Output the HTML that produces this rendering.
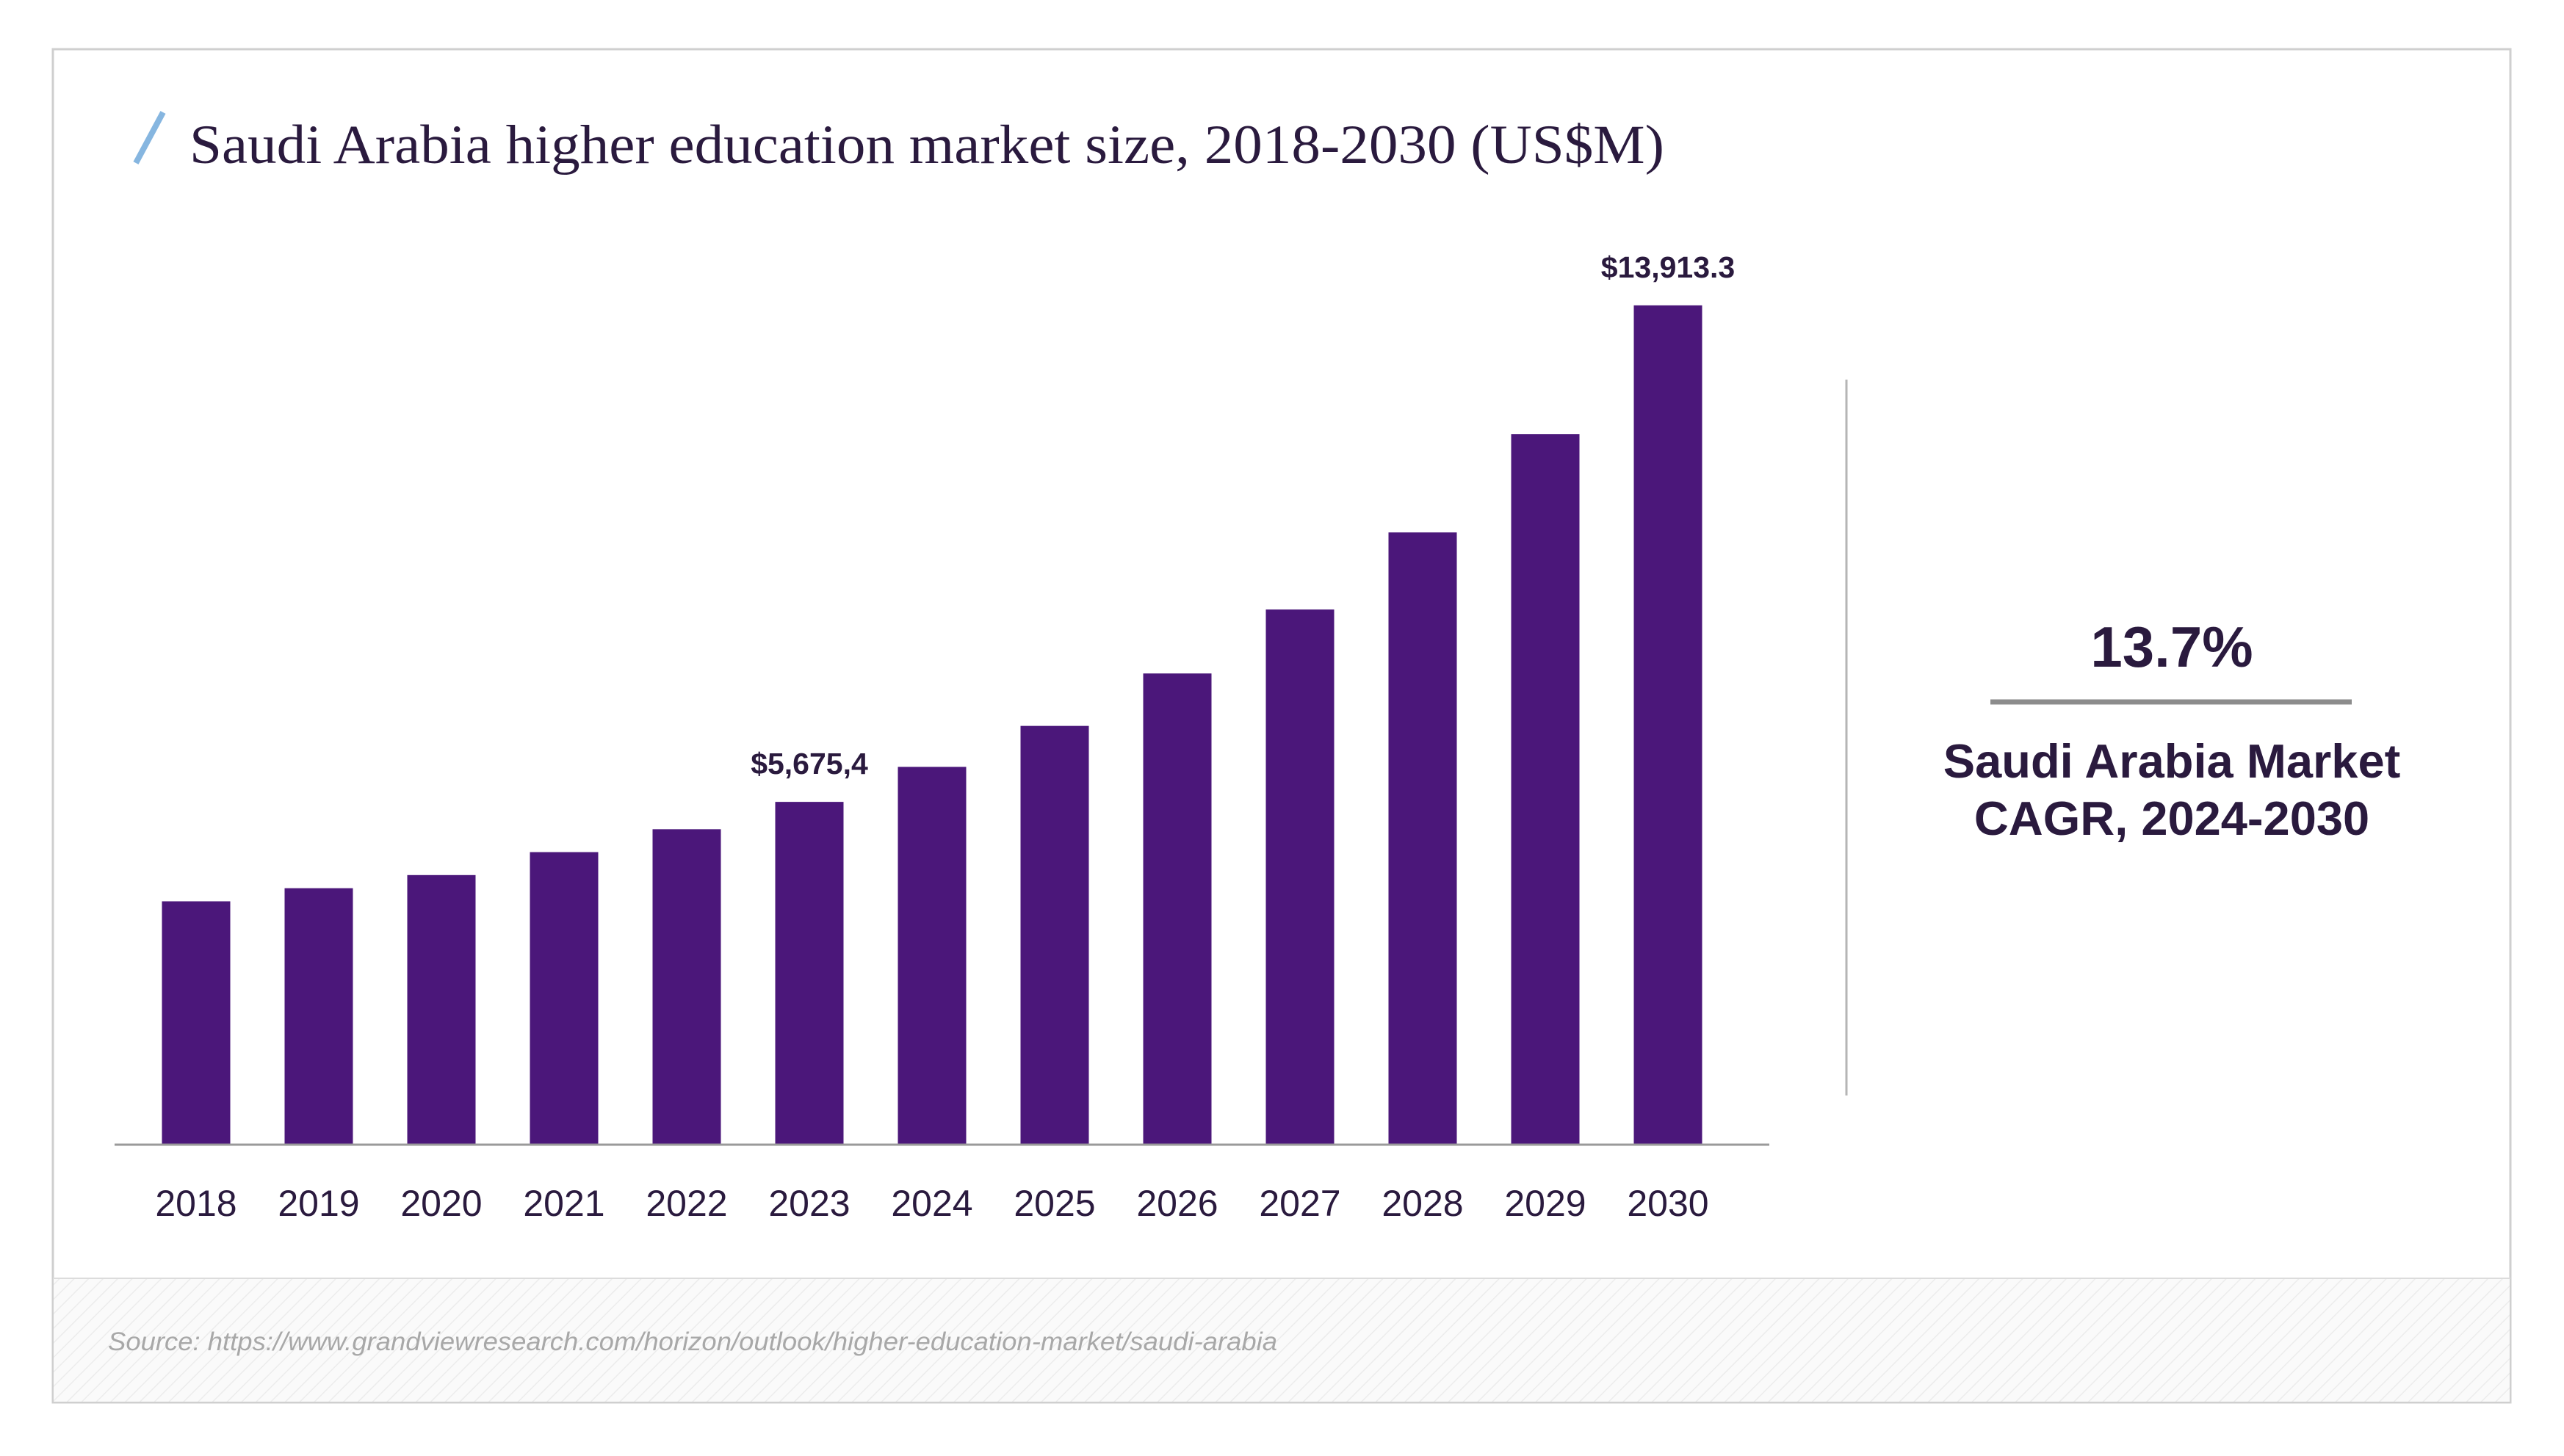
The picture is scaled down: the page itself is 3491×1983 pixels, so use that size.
<!DOCTYPE html>
<html><head><meta charset="utf-8"><style>
html,body{margin:0;padding:0;background:#fff;}
svg{display:block;}
</style></head><body>
<svg width="3491" height="1983" viewBox="0 0 3491 1983" xmlns="http://www.w3.org/2000/svg">
<defs>
<pattern id="hatch" width="14" height="14" patternUnits="userSpaceOnUse" patternTransform="rotate(45)">
<rect width="14" height="14" fill="#fafafa"/>
<line x1="0" y1="0" x2="0" y2="14" stroke="#ececec" stroke-width="3"/>
</pattern>
</defs>
<rect x="72" y="67" width="3346" height="1843" fill="#fff" stroke="#cfcfcf" stroke-width="3"/>
<rect x="73" y="1741" width="3344" height="168" fill="url(#hatch)"/>
<line x1="72" y1="1741" x2="3418" y2="1741" stroke="#dcdcdc" stroke-width="2"/>
<line x1="185" y1="222" x2="222" y2="153" stroke="#86b6e0" stroke-width="8"/>
<text x="258" y="222" font-family="'Liberation Serif',serif" font-size="75" fill="#2a1a3e" textLength="2008" lengthAdjust="spacingAndGlyphs">Saudi Arabia higher education market size, 2018-2030 (US$M)</text>
<g id="bars"></g>
<line x1="156" y1="1559" x2="2409" y2="1559" stroke="#9a9a9a" stroke-width="3"/>
<g id="xlabels"></g>
<line x1="2514" y1="517" x2="2514" y2="1492" stroke="#b5b5b5" stroke-width="3"/>
<text x="2957" y="908" text-anchor="middle" font-family="'Liberation Sans',sans-serif" font-weight="bold" font-size="78" fill="#2a1a3e">13.7%</text>
<line x1="2710" y1="956" x2="3202" y2="956" stroke="#8c8c8c" stroke-width="7"/>
<text x="2957" y="1059" text-anchor="middle" font-family="'Liberation Sans',sans-serif" font-weight="bold" font-size="65" fill="#2a1a3e">Saudi Arabia Market</text>
<text x="2957" y="1137" text-anchor="middle" font-family="'Liberation Sans',sans-serif" font-weight="bold" font-size="65" fill="#2a1a3e">CAGR, 2024-2030</text>
<text x="147" y="1839" font-family="'Liberation Sans',sans-serif" font-style="italic" font-size="35" fill="#a8a8a8" textLength="1592" lengthAdjust="spacingAndGlyphs">Source: https://www.grandviewresearch.com/horizon/outlook/higher-education-market/saudi-arabia</text>
</svg>
<script>
const categories = ["2018","2019","2020","2021","2022","2023","2024","2025","2026","2027","2028","2029","2030"];
const values = [4026,4243,4461,4842,5222,5675.4,6256,6936,7806,8867,10146,11778,13913.3];
const valueLabels = ["","","","","","$5,675,4","","","","","","","$13,913.3"];
const NS="http://www.w3.org/2000/svg";
const baseY=1558, pxPerUnit=1142.1/13913.3;
const x0=267, step=167, barW=93;
function xScale(i){return x0+step*i;}
function yScale(v){return baseY-v*pxPerUnit;}
const bars=document.getElementById('bars');
const xl=document.getElementById('xlabels');
categories.forEach((c,i)=>{
  const r=document.createElementNS(NS,'rect');
  r.setAttribute('x',xScale(i)-barW/2);
  r.setAttribute('y',yScale(values[i]));
  r.setAttribute('width',barW);
  r.setAttribute('height',baseY-yScale(values[i]));
  r.setAttribute('fill','#4b177a');
  
  
  bars.appendChild(r);
  const t=document.createElementNS(NS,'text');
  t.setAttribute('x',xScale(i));t.setAttribute('y',1656);
  t.setAttribute('text-anchor','middle');
  t.setAttribute('font-family',"'Liberation Sans',sans-serif");
  t.setAttribute('font-size','50');t.setAttribute('fill','#2a1a3e');
  t.textContent=c;
  
  
  xl.appendChild(t);
  if(valueLabels[i]){
    const v=document.createElementNS(NS,'text');
    v.setAttribute('x',xScale(i));v.setAttribute('y',yScale(values[i])-38);
    v.setAttribute('text-anchor','middle');
    v.setAttribute('font-family',"'Liberation Sans',sans-serif");
    v.setAttribute('font-weight','bold');
    v.setAttribute('font-size','41');v.setAttribute('fill','#2a1a3e');
    v.textContent=valueLabels[i];
    
    
    bars.appendChild(v);
  }
});
</script>
</body></html>
